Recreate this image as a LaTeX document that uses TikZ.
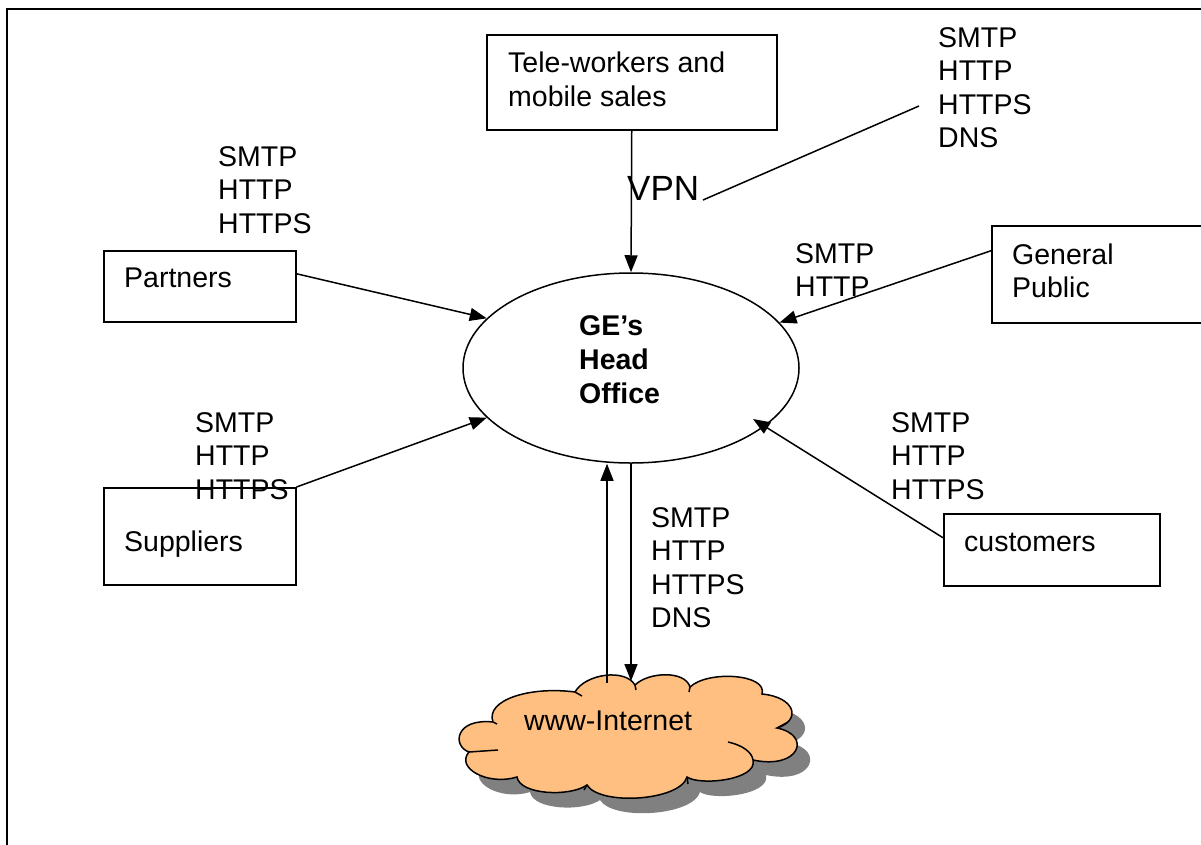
\documentclass[tikz,border=0pt]{standalone}
\usepackage{fontspec}
\setmainfont{Liberation Sans}
\usetikzlibrary{shapes.geometric,arrows.meta,calc}
\definecolor{cloudc}{RGB}{255,191,128}
\definecolor{shadowc}{RGB}{128,128,128}
\def\cloudpath{(493,722) .. controls (485,700) and (530,686) .. (575,692)
 .. controls (585,674) and (625,668) .. (635,685)
 .. controls (648,672) and (685,670) .. (690,687)
 .. controls (708,670) and (768,674) .. (762,694)
 .. controls (795,697) and (802,720) .. (777,728)
 .. controls (812,735) and (800,770) .. (753,760)
 .. controls (758,780) and (700,786) .. (687,777)
 .. controls (680,801) and (600,806) .. (587,785)
 .. controls (570,797) and (520,795) .. (517,777)
 .. controls (488,786) and (455,768) .. (469,752)
 .. controls (452,746) and (455,718) .. (493,722) -- cycle}
\begin{document}
\begin{tikzpicture}[x=1pt,y=-1pt,
  lbl/.style={anchor=base west, align=left, inner sep=0pt, font=\fontsize{28.5}{33.5}\selectfont},
  box/.style={draw, line width=1.5pt, rectangle, inner sep=0pt, anchor=north west},
  arr/.style={line width=1.5pt, -{Triangle[length=17pt,width=13pt]}},
  ln/.style={line width=1.5pt}]
\useasboundingbox (0,0) rectangle (1201,844);
\clip (0,0) rectangle (1201,844);
\fill[white] (0,0) rectangle (1201,844);
\draw[line width=2pt] (7,850) -- (7,9) -- (1210,9);
% boxes
\node[box, minimum width=290pt, minimum height=95pt] (tele) at (486,34) {};
\node[box, minimum width=192pt, minimum height=71pt] (partners) at (103,250) {};
\node[box, minimum width=230pt, minimum height=97pt] (public) at (991,225) {};
\node[box, minimum width=192pt, minimum height=97pt] (suppliers) at (103,487) {};
\node[box, minimum width=216pt, minimum height=72pt] (customers) at (943,513) {};
\node[draw, ellipse, line width=1.5pt, minimum width=336pt, minimum height=190pt, inner sep=0pt] (ho) at (631,368) {};
% cloud with shadow
\fill[shadowc, shift={(13,15)}] \cloudpath;
\draw[line width=1.5pt, fill=cloudc] \cloudpath;
\draw[line width=1.5pt] (575,692) -- (582,696);
\draw[line width=1.5pt] (635,685) -- (636,690);
\draw[line width=1.5pt] (690,687) -- (689,692);
\draw[line width=1.5pt] (777,728) -- (788,722);
\draw[line width=1.5pt] (728,742) .. controls (742,745) and (752,752) .. (753,760);
\draw[line width=1.5pt] (687,777) -- (688,784);
\draw[line width=1.5pt] (587,785) -- (584,790);
\draw[line width=1.5pt] (469,752) -- (498,750);
\draw[line width=1.5pt] (493,722) -- (497,724);
\node[inner sep=0pt] (net) at (631,738) {};
% texts
\node[lbl] (teleT) at (508,106) {Tele-workers and\\mobile sales};
\node[lbl] (partT) at (124,287) {Partners};
\node[lbl] (pubT) at (1012,297.5) {General\\Public};
\node[lbl] (supT) at (124,551) {Suppliers};
\node[lbl] (cusT) at (964,551) {customers};
\node[lbl, font=\bfseries\fontsize{28.5}{34}\selectfont] (hoT) at (579,403) {GE’s\\Head\\Office};
\node[lbl] (netT) at (524,730) {www-Internet};
% protocol labels (anchored at the baseline of their last line)
\node[lbl] (l1) at (938,147.5) {SMTP\\HTTP\\HTTPS\\DNS};
\node[lbl] (l2) at (218,233) {SMTP\\HTTP\\HTTPS};
\node[lbl] (l3) at (795,296.5) {SMTP\\HTTP};
\node[lbl] (l4) at (195,499) {SMTP\\HTTP\\HTTPS};
\node[lbl] (l5) at (891,499) {SMTP\\HTTP\\HTTPS};
\node[lbl] (l6) at (651,627.5) {SMTP\\HTTP\\HTTPS\\DNS};
\node[lbl, font=\fontsize{35}{40}\selectfont] (vpn) at (627,200) {VPN};
% coordinates
\coordinate (netUp) at (607,683);
\coordinate (netDn) at (631,681);
\coordinate (vpnEnd) at (703,200);
\coordinate (l1End) at (919,106);
% connectors
\draw[arr] (tele.south) -- (ho.north);
\draw[arr] ([yshift=12.5pt]partners.east) -- (ho.161.6);
\draw[arr] (suppliers.north east) -- (ho.199.1);
\draw[arr] ([yshift=23.5pt]public.west) -- (ho.17.8);
\draw[arr] ([yshift=12pt]customers.west) -- ($(ho.center)+(122,51)$);
\draw[arr] (netUp) -- ([xshift=-24pt]ho.south);
\draw[arr] (ho.south) -- (netDn);
\draw[ln] (vpnEnd) -- (l1End);
\end{tikzpicture}
\end{document}
